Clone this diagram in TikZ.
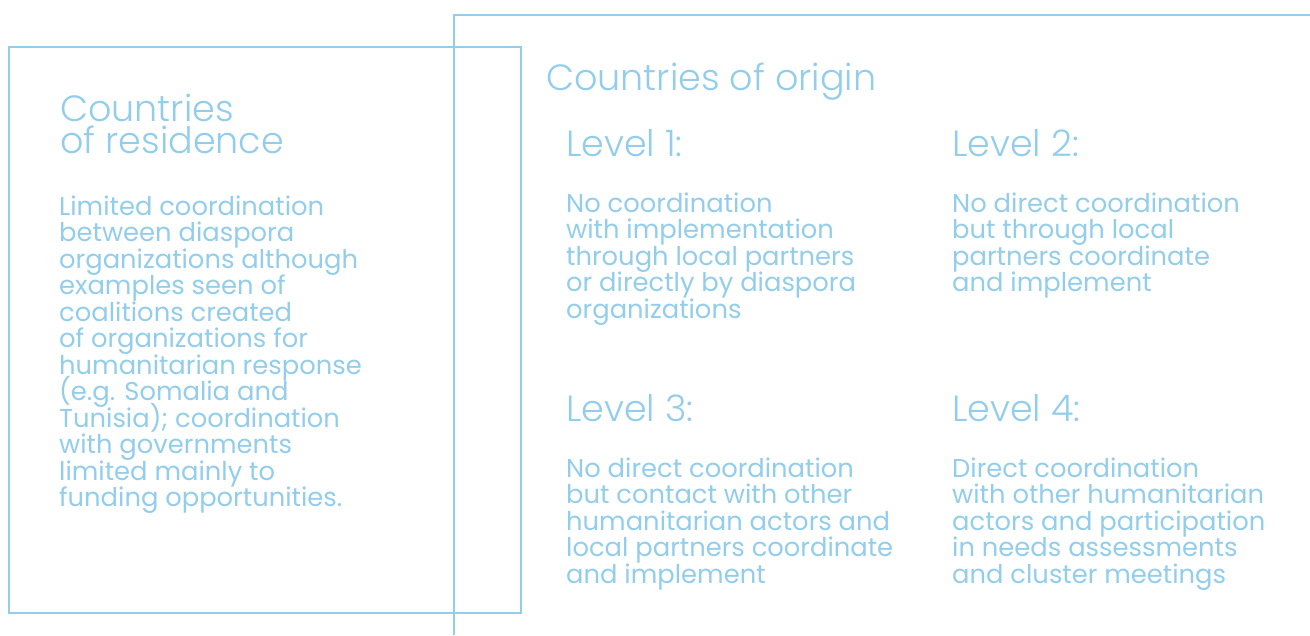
\documentclass[tikz,border=0pt]{standalone}
\usepackage{fontspec}
\setmainfont{Poppins}
\newfontfamily\lightfont{Poppins}[UprightFont=* Light]
\definecolor{sky}{RGB}{146,206,236}
\newcommand{\mylines}[1]{\vtop{\lineskiplimit=-40pt\halign{##\hfil\cr#1\crcr}}}
\tikzset{
  frame/.style={draw=sky, line width=2.2pt},
  headtxt/.style={anchor=base west, inner sep=0pt, text=sky, font=\lightfont\fontsize{36.5}{32}\selectfont},
  bodytxt/.style={anchor=base west, inner sep=0pt, text=sky, font=\fontsize{25.8}{26.5}\selectfont},
}
\begin{document}
\begin{tikzpicture}[x=1pt,y=-1pt]
\useasboundingbox (0,0) rectangle (1310,635);
\fill[white] (0,0) rectangle (1310,635);
% frames
\draw[frame] (454,635) -- (454,15) -- (1310,15);
\draw[frame] (9,47) rectangle (521,613);
% left column
\node[headtxt] (reshead) at (60,121) {\mylines{Countries\cr of residence}};
\node[bodytxt] (resbody) at (59,215) {\mylines{Limited coordination\cr between diaspora\cr organizations although\cr examples seen of\cr coalitions created\cr of organizations for\cr humanitarian response\cr (e.g. Somalia and\cr Tunisia); coordination\cr with governments\cr limited mainly to\cr funding opportunities.}};
% right column
\node[headtxt] (orighead) at (546,90) {Countries of origin};
\node[headtxt] (l1head) at (566,156) {Level 1:};
\node[headtxt] (l2head) at (952,156) {Level 2:};
\node[headtxt] (l3head) at (566,421) {Level 3:};
\node[headtxt] (l4head) at (952,421) {Level 4:};
\node[bodytxt] (l1body) at (566,212) {\mylines{No coordination\cr with implementation\cr through local partners\cr or directly by diaspora\cr organizations}};
\node[bodytxt] (l2body) at (952,212) {\mylines{No direct coordination\cr but through local\cr partners coordinate\cr and implement}};
\node[bodytxt] (l3body) at (566,477) {\mylines{No direct coordination\cr but contact with other\cr humanitarian actors and\cr local partners coordinate\cr and implement}};
\node[bodytxt] (l4body) at (952,477) {\mylines{Direct coordination\cr with other humanitarian\cr actors and participation\cr in needs assessments\cr and cluster meetings}};
\end{tikzpicture}
\end{document}
